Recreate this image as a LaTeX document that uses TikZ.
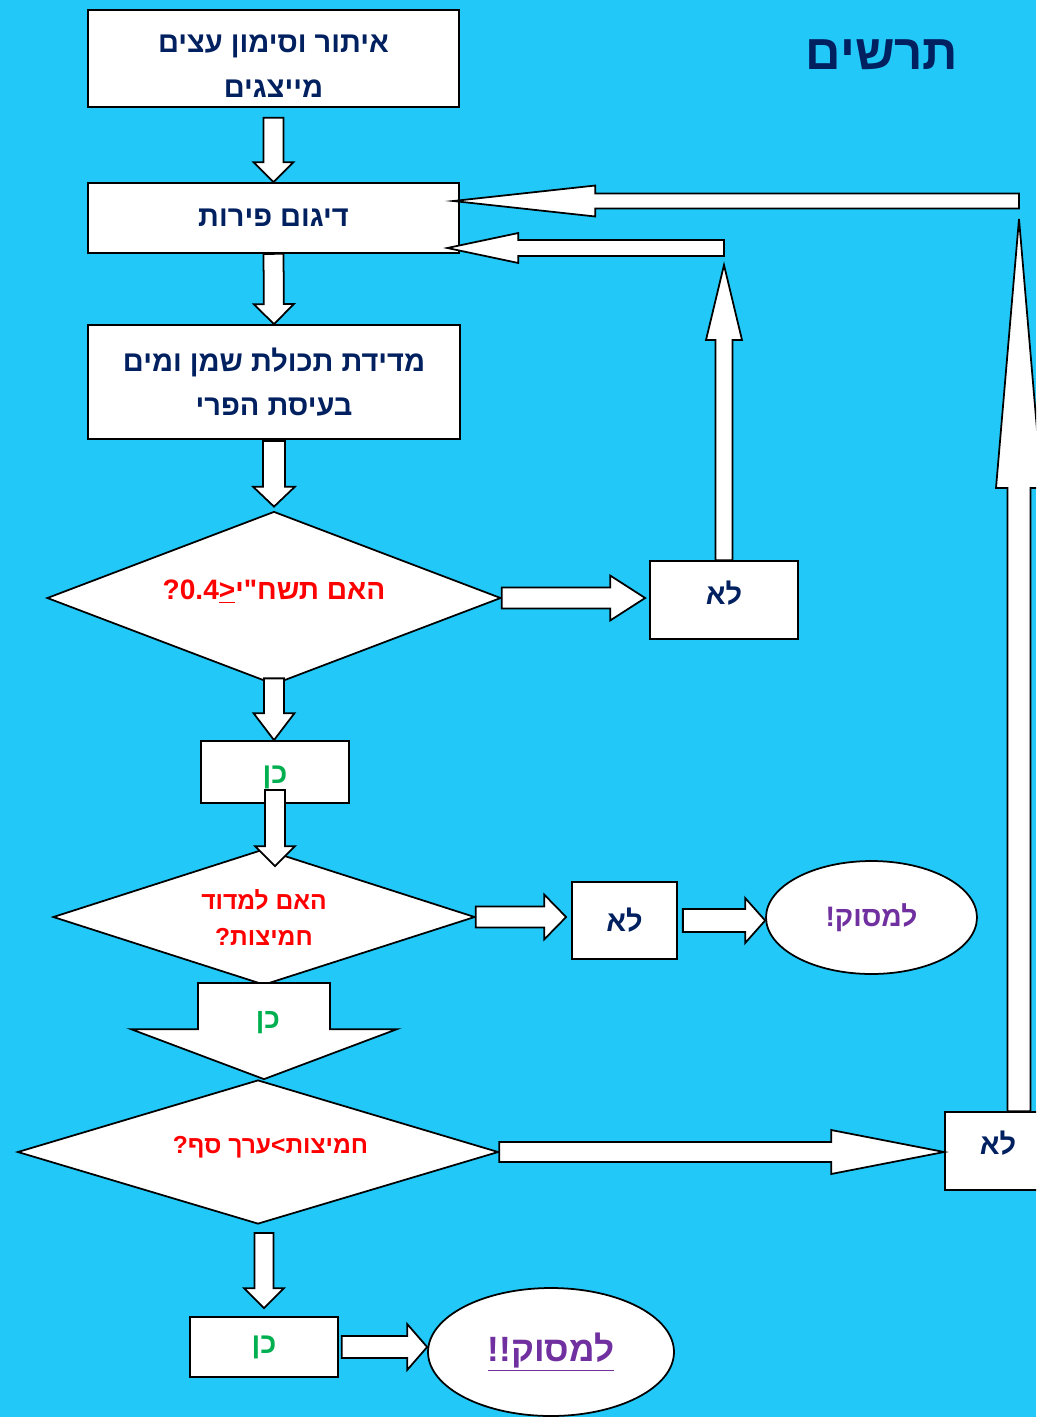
\documentclass[tikz,border=0pt]{standalone}
\usepackage{fontspec}
\setmainfont{Liberation Sans}
\newfontfamily\hebfont[Script=Hebrew]{Liberation Sans}
\TeXXeTstate=1
\usetikzlibrary{calc,shapes.geometric}

\definecolor{skybg}{HTML}{22C9F8}
\definecolor{navytxt}{HTML}{002060}
\definecolor{yestxt}{HTML}{00B050}
\definecolor{stoptxt}{HTML}{7030A0}

\newcommand{\heb}[1]{{\hebfont\bfseries\beginR #1\endR}}
% block arrow: tail, tip, half shaft, half head, head length
\newcommand{\blockarrow}[5]{%
  \coordinate (ba) at ($#2!#5!#1$);
  \filldraw[blockarr] ($#1!#3!90:#2$) -- ($(ba)!#3!90:#2$) -- ($(ba)!#4!90:#2$) -- #2
    -- ($(ba)!#4!-90:#2$) -- ($(ba)!#3!-90:#2$) -- ($#1!#3!-90:#2$) -- cycle;}

\tikzset{
  procbox/.style={draw,fill=white,line width=1pt,inner sep=0pt,align=center,
    text=navytxt,font=\fontsize{16.5}{25.5}\selectfont},
  yesbox/.style={procbox,text=yestxt},
  decision/.style={diamond,draw,fill=white,line width=1pt,inner sep=0pt,align=center,
    text=red,font=\fontsize{14}{20.5}\selectfont},
  stopnode/.style={ellipse,draw,fill=white,line width=1pt,inner sep=0pt,
    text=stoptxt,font=\fontsize{16}{20}\selectfont},
  blockarr/.style={fill=white,draw=black,line width=1pt,line join=miter},
}

\begin{document}
\begin{tikzpicture}[x=0.02cm,y=-0.02cm]
\useasboundingbox (0,0) rectangle (1036,1417);
\fill[skybg] (0,0) rectangle (1036,1417);
\clip (0,0) rectangle (1036,1417);

\node[text=navytxt,font=\fontsize{28}{34}\selectfont] (title) at (882,55) {\heb{תרשים}};

% main column
\node[procbox,minimum width=7.42cm,minimum height=1.94cm] (mark) at (273.5,58.5)
  {\rule{0pt}{19pt}\heb{איתור וסימון עצים}\\\heb{מייצגים}};
\node[procbox,minimum width=7.42cm,minimum height=1.40cm] (sample) at (273.5,218) {\heb{דיגום פירות}};
\node[procbox,minimum width=7.44cm,minimum height=2.28cm] (measure) at (274,382)
  {\heb{מדידת תכולת שמן ומים}\\\heb{בעיסת הפרי}};
\node[decision,shape aspect=2.6,minimum width=9.08cm,minimum height=3.46cm,
  font=\fontsize{16}{20}\selectfont] (ratio) at (274,598)
  {\heb{האם תשח"י\underline{<}\beginL 0.4\endL?}\rule[-9pt]{0pt}{1pt}};
\node[procbox,minimum width=2.96cm,minimum height=1.56cm] (no1) at (724,600) {\heb{לא}\rule[-8pt]{0pt}{1pt}};
\node[yesbox,minimum width=2.96cm,minimum height=1.24cm] (yes1) at (275,772) {\rule{0pt}{16pt}\heb{כן}};
\node[decision,shape aspect=3.1,minimum width=8.44cm,minimum height=2.72cm] (acid) at (264,917)
  {\heb{האם למדוד}\\\heb{חמיצות?}};
\node[procbox,minimum width=2.10cm,minimum height=1.54cm] (no2) at (624.5,920.5) {\heb{לא}};
\node[stopnode,minimum width=4.22cm,minimum height=2.26cm] (stop1) at (871.5,917.5) {\heb{למסוק!}};
\node[decision,shape aspect=3.3,minimum width=9.62cm,minimum height=2.88cm] (limit) at (258,1152)
  {\hspace{0.5cm}\heb{חמיצות>ערך סף?}\rule[-8pt]{0pt}{1pt}};
\node[procbox,minimum width=2.12cm,minimum height=1.56cm] (no3) at (998,1151) {\heb{לא}\rule[-10pt]{0pt}{1pt}};
\node[yesbox,minimum width=2.96cm,minimum height=1.20cm] (yes2) at (264,1347) {\heb{כן}};
\node[stopnode,minimum width=4.92cm,minimum height=2.56cm,font=\fontsize{20}{24}\selectfont] (stop2)
  at (551,1352) {\underline{\heb{למסוק!!}}\rule[-6pt]{0pt}{1pt}};

% free ends of the return arrows
\coordinate (upTip) at (724,265);
\coordinate (backTip) at ([xshift=-0.25cm,yshift=-0.6cm]sample.east);
\coordinate (backTail) at (upTip |- backTip);
\coordinate (farTip) at (1019,219);
\coordinate (farFoot) at (no3.north -| farTip);
\coordinate (topTip) at ([xshift=-0.13cm,yshift=0.34cm]sample.east);
\coordinate (topTail) at (farTip |- topTip);
% straight joints between nodes that are not quite in line
\coordinate (acidTop) at (yes1.south |- acid.north);
\coordinate (limTop) at (acid.south |- limit.north);
\coordinate (limFoot) at (yes2.north |- limit.south);
\coordinate (no1In) at (no1.west |- ratio.east);
\coordinate (no2In) at (no2.west |- acid.east);
\coordinate (stop1In) at (stop1.west |- no2.east);
\coordinate (no3In) at (no3.west |- limit.east);
\coordinate (stop2In) at (stop2.west |- yes2.east);
\coordinate (yes1Top) at (yes1.north -| ratio.south);

% arrows
\blockarrow{([yshift=-0.2cm]mark.south)}{(sample.north)}{0.2cm}{0.4cm}{0.4cm}
\blockarrow{(sample.south)}{(measure.north)}{0.2cm}{0.4cm}{0.4cm}
\blockarrow{([yshift=-0.02cm]measure.south)}{([yshift=0.08cm]ratio.north)}{0.22cm}{0.42cm}{0.4cm}
\blockarrow{([yshift=0.14cm]ratio.south)}{(yes1Top)}{0.2cm}{0.41cm}{0.54cm}
\blockarrow{([yshift=0.28cm]yes1.south)}{([yshift=-0.36cm]acidTop)}{0.2cm}{0.4cm}{0.4cm}
\blockarrow{(ratio.east)}{([xshift=-0.08cm]no1In)}{0.21cm}{0.45cm}{0.7cm}
\blockarrow{(no1.north)}{(upTip)}{0.17cm}{0.36cm}{1.5cm}
\blockarrow{(backTail)}{(backTip)}{0.16cm}{0.30cm}{1.42cm}
\blockarrow{(farFoot)}{(farTip)}{0.23cm}{0.46cm}{5.38cm}
\blockarrow{(topTail)}{(topTip)}{0.15cm}{0.31cm}{2.84cm}
\blockarrow{(acid.east)}{([xshift=-0.1cm]no2In)}{0.21cm}{0.45cm}{0.44cm}
\blockarrow{([xshift=0.1cm]no2.east |- stop1In)}{(stop1In)}{0.23cm}{0.45cm}{0.4cm}
\blockarrow{([yshift=0.06cm]acid.south)}{(limTop)}{1.32cm}{2.66cm}{1.0cm}
\blockarrow{(limit.east)}{(no3In)}{0.2cm}{0.44cm}{2.26cm}
\blockarrow{([yshift=-0.16cm]limFoot)}{([yshift=0.16cm]yes2.north)}{0.19cm}{0.4cm}{0.4cm}
\blockarrow{([xshift=0.06cm]yes2.east)}{(stop2In)}{0.22cm}{0.46cm}{0.4cm}

\node[text=yestxt,font=\fontsize{16}{20}\selectfont] (yes2lbl) at (268,1023) {\heb{כן}};
\end{tikzpicture}
\end{document}
